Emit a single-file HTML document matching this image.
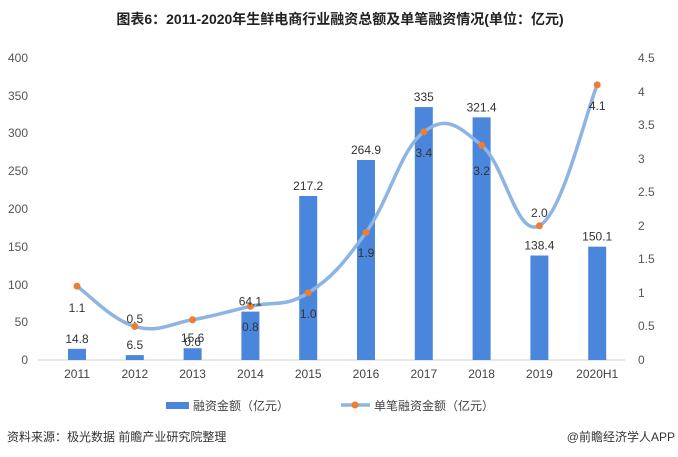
<!DOCTYPE html>
<html><head><meta charset="utf-8"><style>
body{margin:0;background:#fff;}
svg{display:block;font-family:"Liberation Sans","Noto Sans CJK SC",sans-serif;}
</style></head><body>
<svg id="s" width="678" height="457" viewBox="0 0 678 457">
<text x="340" y="24" text-anchor="middle" font-size="14" font-weight="bold" fill="#222">图表6：2011-2020年生鲜电商行业融资总额及单笔融资情况(单位：亿元)</text>
<g font-size="12" fill="#555" text-anchor="end">
<text x="28" y="62">400</text><text x="28" y="100">350</text><text x="28" y="137">300</text><text x="28" y="175">250</text><text x="28" y="213">200</text><text x="28" y="251">150</text><text x="28" y="289">100</text><text x="28" y="326">50</text><text x="28" y="364">0</text>
</g>
<g font-size="12" fill="#555" text-anchor="start">
<text x="638" y="62">4.5</text><text x="638" y="96">4</text><text x="638" y="129">3.5</text><text x="638" y="163">3</text><text x="638" y="196">2.5</text><text x="638" y="230">2</text><text x="638" y="263">1.5</text><text x="638" y="297">1</text><text x="638" y="330">0.5</text><text x="638" y="364">0</text>
</g>
<line x1="38" y1="360" x2="625" y2="360" stroke="#d0d0d0"/>
<g id="bars" fill="#4a86dc"></g>
<g id="xl" font-size="12" fill="#444" text-anchor="middle"></g>
<path id="ln" fill="none" stroke="#8db4e2" stroke-width="3.5"/>
<g id="mk" fill="#ed7d31"></g>
<g id="lb" font-size="12" fill="#333" text-anchor="middle"></g>
<rect x="166" y="402" width="23" height="7" fill="#4a86dc"/>
<text x="193" y="410" font-size="12" fill="#444">融资金额（亿元）</text>
<line x1="341" y1="405" x2="370" y2="405" stroke="#8db4e2" stroke-width="3.5"/>
<circle cx="355" cy="405" r="3.5" fill="#ed7d31"/>
<text x="374" y="410" font-size="12" fill="#444">单笔融资金额（亿元）</text>
<text x="7" y="441" font-size="12" fill="#333">资料来源：极光数据 前瞻产业研究院整理</text>
<text x="675" y="441" font-size="12" fill="#333" text-anchor="end">@前瞻经济学人APP</text>
</svg>
<script>
var ns="http://www.w3.org/2000/svg";
var cats=["2011","2012","2013","2014","2015","2016","2017","2018","2019","2020H1"];
var bv=[14.8,6.5,15.6,64.1,217.2,264.9,335,321.4,138.4,150.1];
var bl=["14.8","6.5","15.6","64.1","217.2","264.9","335","321.4","138.4","150.1"];
var lv=[1.1,0.5,0.6,0.8,1.0,1.9,3.4,3.2,2.0,4.1];
var ll=["1.1","0.5","0.6","0.8","1.0","1.9","3.4","3.2","2.0","4.1"];
var lly=[312,323,346,331,318,257,157,175,217,110];
function el(t,a,p,txt){var e=document.createElementNS(ns,t);for(var k in a)e.setAttribute(k,a[k]);if(txt)e.textContent=txt;document.getElementById(p).appendChild(e);}
var pts=[];
for(var i=0;i<10;i++){
 var x=77+i*57.8;
 var y=360-bv[i]*0.755;
 el("rect",{x:x-9,y:y,width:18,height:360-y},"bars");
 el("text",{x:x,y:378},"xl",cats[i]);
 el("text",{x:x,y:y-6},"lb",bl[i]);
 var ly=360-lv[i]*67.1;pts.push([x,ly]);
 el("text",{x:x,y:lly[i]},"lb",ll[i]);
}
var d="M"+pts[0][0]+","+pts[0][1];
for(var i=0;i<9;i++){
 var p0=pts[Math.max(i-1,0)],p1=pts[i],p2=pts[i+1],p3=pts[Math.min(i+2,9)];
 var t=0.2;
 var c1=[p1[0]+(p2[0]-p0[0])*t,p1[1]+(p2[1]-p0[1])*t];
 var c2=[p2[0]-(p3[0]-p1[0])*t,p2[1]-(p3[1]-p1[1])*t];
 d+=" C"+c1+" "+c2+" "+p2;
}
document.getElementById("ln").setAttribute("d",d);
pts.forEach(function(p){el("circle",{cx:p[0],cy:p[1],r:3.5},"mk");});
</script>
</body></html>
